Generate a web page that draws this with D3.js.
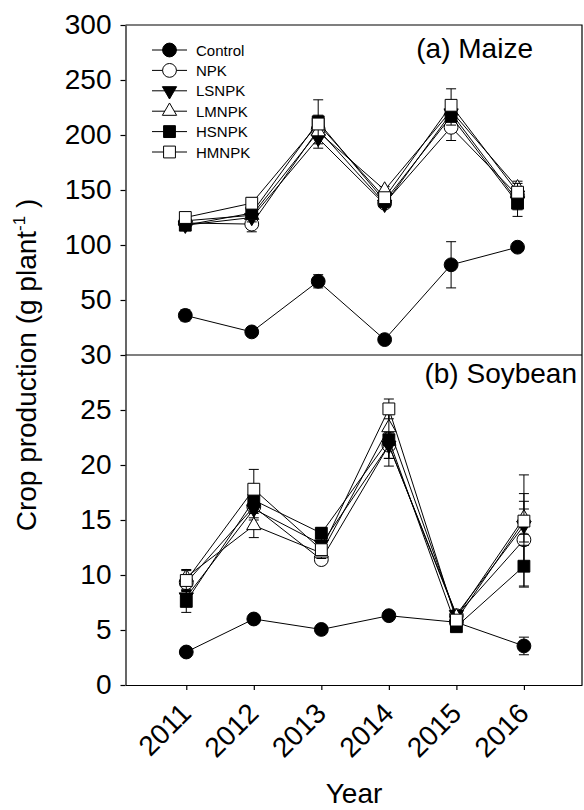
<!DOCTYPE html>
<html>
<head>
<meta charset="utf-8">
<script src="https://cdn.jsdelivr.net/npm/d3@7"></script>
<style>
  body { margin: 0; background: #fff; }
  text { font-family: Arial, "Liberation Sans", sans-serif; fill: #000; }
</style>
</head>
<body>
<svg id="chart" width="584" height="810"></svg>
<script>
// data
var years = [2011, 2012, 2013, 2014, 2015, 2016];
var treatments = ["Control", "NPK", "LSNPK", "LMNPK", "HSNPK", "HMNPK"];

// (a) Maize, g plant-1
var maizeControl = [36, 21, 67, 14, 82, 98];
var maizeNPK     = [120, 119, 205, 138, 207, 145];
var maizeLSNPK   = [118, 125, 197, 137, 220, 140];
var maizeLMNPK   = [122, 127, 203, 150, 222, 152];
var maizeHSNPK   = [118, 129, 212, 140, 217, 138];
var maizeHMNPK   = [125, 138, 210, 143, 227, 148];
var maizeControlErr = [5, 4, 6, 2, 21, 4];
var maizeNPKErr     = [3, 7, 8, 3, 12, 8];
var maizeLSNPKErr   = [3, 4, 5, 3, 8, 8];
var maizeLMNPKErr   = [3, 4, 5, 3, 8, 6];
var maizeHSNPKErr   = [3, 4, 6, 3, 8, 12];
var maizeHMNPKErr   = [3, 5, 22, 3, 15, 8];

// (b) Soybean, g plant-1
var soyControl = [3.0, 6.0, 5.05, 6.3, 5.7, 3.55];
var soyNPK     = [9.3, 16.2, 11.4, 21.8, 6.3, 13.2];
var soyLSNPK   = [8.0, 16.0, 12.8, 21.8, 6.4, 14.5];
var soyLMNPK   = [9.8, 14.5, 12.0, 23.4, 6.2, 15.2];
var soyHSNPK   = [7.6, 16.8, 13.8, 22.3, 5.3, 10.8];
var soyHMNPK   = [9.5, 17.8, 12.3, 25.1, 5.9, 14.9];
var soyControlErr = [0.3, 0.3, 0.4, 0.3, 0.3, 0.8];
var soyNPKErr     = [0.6, 1.0, 0.4, 1.2, 0.4, 4.2];
var soyLSNPKErr   = [0.6, 1.0, 0.5, 1.2, 0.4, 1.5];
var soyLMNPKErr   = [0.6, 1.1, 0.5, 1.2, 0.4, 1.5];
var soyHSNPKErr   = [1.0, 1.0, 0.5, 2.4, 0.4, 1.9];
var soyHMNPKErr   = [1.0, 1.8, 0.5, 0.9, 0.4, 4.2];

var maize = [maizeControl, maizeNPK, maizeLSNPK, maizeLMNPK, maizeHSNPK, maizeHMNPK];
var maizeErr = [maizeControlErr, maizeNPKErr, maizeLSNPKErr, maizeLMNPKErr, maizeHSNPKErr, maizeHMNPKErr];
var soy = [soyControl, soyNPK, soyLSNPK, soyLMNPK, soyHSNPK, soyHMNPK];
var soyErr = [soyControlErr, soyNPKErr, soyLSNPKErr, soyLMNPKErr, soyHSNPKErr, soyHMNPKErr];

//layout
var left = 125.5, right = 582,
    topY = 25, midY = 355, bottomY = 685;

var svg = d3.select("#chart");

var xTop = d3.scaleLinear().domain([2010.1, 2016.97]).range([left, right]),
    xBot = d3.scaleLinear().domain([2010.1, 2016.86]).range([left, right]),
    yTop = d3.scaleLinear().domain([0, 300]).range([midY, topY]),
    yBot = d3.scaleLinear().domain([0, 30]).range([bottomY, midY]);

//symbol per treatment
var symbols = [
    { type: d3.symbolCircle, size: 150, fill: "#000", rot: 0 },
    { type: d3.symbolCircle, size: 150, fill: "#fff", rot: 0 },
    { type: d3.symbolTriangle, size: 88, fill: "#000", rot: 180 },
    { type: d3.symbolTriangle, size: 88, fill: "#fff", rot: 0 },
    { type: d3.symbolSquare, size: 140, fill: "#000", rot: 0 },
    { type: d3.symbolSquare, size: 140, fill: "#fff", rot: 0 }
];

function drawSeries(g, x, y, values, errs) {
    values.forEach(function (vals, i) {
        var pts = years.map(function (yr, j) { return { yr: yr, v: vals[j], e: errs[i][j] }; });
        var sg = g.append("g");
        sg.append("path")
            .datum(pts)
            .attr("fill", "none")
            .attr("stroke", "#000")
            .attr("stroke-width", 1)
            .attr("d", d3.line().x(function (d) { return x(d.yr); }).y(function (d) { return y(d.v); }));
        var eb = sg.selectAll(".err").data(pts).enter().append("g")
            .attr("stroke", "#000").attr("stroke-width", 1);
        eb.append("line")
            .attr("x1", function (d) { return x(d.yr); })
            .attr("x2", function (d) { return x(d.yr); })
            .attr("y1", function (d) { return y(d.v - d.e); })
            .attr("y2", function (d) { return y(d.v + d.e); });
        [-1, 1].forEach(function (s) {
            eb.append("line")
                .attr("x1", function (d) { return x(d.yr) - 5; })
                .attr("x2", function (d) { return x(d.yr) + 5; })
                .attr("y1", function (d) { return y(d.v + s * d.e); })
                .attr("y2", function (d) { return y(d.v + s * d.e); });
        });
        var sym = symbols[i];
        sg.selectAll(".mk").data(pts).enter().append("path")
            .attr("d", d3.symbol().type(sym.type).size(sym.size))
            .attr("transform", function (d) { return "translate(" + x(d.yr) + "," + y(d.v) + ") rotate(" + sym.rot + ")"; })
            .attr("fill", sym.fill)
            .attr("stroke", "#000")
            .attr("stroke-width", 1);
    });
}

drawSeries(svg.append("g"), xTop, yTop, maize, maizeErr);
drawSeries(svg.append("g"), xBot, yBot, soy, soyErr);

//frame
var frame = svg.append("g").attr("stroke", "#000").attr("stroke-width", 1.2).attr("fill", "none");
frame.append("path").attr("d", "M" + left + "," + topY + "H" + right + "V" + bottomY);
frame.append("path").attr("d", "M" + left + "," + midY + "H" + right);

//axes
var yAxisTop = d3.axisLeft(yTop).tickValues([50, 100, 150, 200, 250, 300]).tickSize(5).tickSizeOuter(0).tickPadding(9);
var yAxisBot = d3.axisLeft(yBot).tickValues([0, 5, 10, 15, 20, 25, 30]).tickSize(5).tickSizeOuter(0).tickPadding(9);
var xAxis = d3.axisBottom(xBot).tickValues(years).tickFormat(d3.format("d")).tickSize(5).tickSizeOuter(0);

[svg.append("g").attr("transform", "translate(" + left + ",0)").call(yAxisTop),
 svg.append("g").attr("transform", "translate(" + left + ",0)").call(yAxisBot)].forEach(function (a) {
    a.selectAll("text").style("font-size", "28px");
});

var xa = svg.append("g").attr("transform", "translate(0," + bottomY + ")").call(xAxis);
xa.selectAll("text")
    .style("font-size", "28px")
    .attr("text-anchor", "end")
    .attr("x", 0).attr("y", 0).attr("dy", 0)
    .attr("transform", "translate(6,30) rotate(-45)");

svg.selectAll(".domain, .tick line").attr("stroke", "#000").attr("stroke-width", 1.2);

//panel labels
svg.append("text").attr("x", 533).attr("y", 58).attr("text-anchor", "end")
    .style("font-size", "28px").text("(a) Maize");
svg.append("text").attr("x", 577).attr("y", 383).attr("text-anchor", "end")
    .style("font-size", "28px").text("(b) Soybean");

//axis titles
var yt = svg.append("text")
    .attr("transform", "translate(36,365) rotate(-90)")
    .attr("text-anchor", "middle")
    .style("font-size", "28px");
yt.append("tspan").text("Crop production (g plant");
yt.append("tspan").attr("dy", -11).style("font-size", "17px").text("-1");
yt.append("tspan").attr("dy", 11).text(" )");

svg.append("text").attr("x", 354).attr("y", 803).attr("text-anchor", "middle")
    .style("font-size", "28px").text("Year");

//legend
var legend = svg.append("g");
treatments.forEach(function (t, i) {
    var ly = 50 + i * 20.4;
    var row = legend.append("g").attr("transform", "translate(0," + ly + ")");
    row.append("line").attr("x1", 152).attr("x2", 187).attr("y1", 0).attr("y2", 0)
        .attr("stroke", "#000").attr("stroke-width", 1);
    var sym = symbols[i];
    row.append("path")
        .attr("d", d3.symbol().type(sym.type).size(sym.size))
        .attr("transform", "translate(169.5,0) rotate(" + sym.rot + ")")
        .attr("fill", sym.fill).attr("stroke", "#000").attr("stroke-width", 1);
    row.append("text").attr("x", 196).attr("y", 5.5).style("font-size", "15px").text(t);
});
</script>
</body>
</html>
